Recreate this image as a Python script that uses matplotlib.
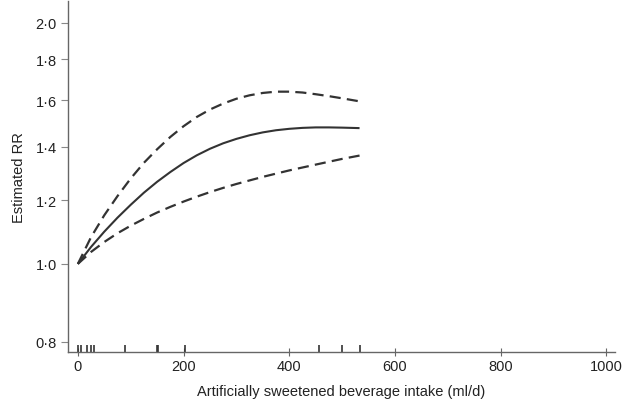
import numpy as np
import matplotlib
matplotlib.use('Agg')
import matplotlib.pyplot as plt
from matplotlib.ticker import FixedLocator, FuncFormatter, NullLocator
import matplotlib.transforms as mtransforms

plt.rcParams['font.family'] = ['Liberation Sans', 'DejaVu Sans']

# intake (ml/d) where the curves were read
intake = [0, 25, 50, 75, 100, 125, 150, 175, 200, 225, 250, 275, 300,
          325, 350, 375, 400, 425, 450, 475, 500, 533]
rr_est = [1.0, 1.05, 1.097, 1.142, 1.185, 1.227, 1.266, 1.302, 1.336, 1.366, 1.392,
          1.414, 1.432, 1.447, 1.459, 1.468, 1.474, 1.478, 1.48, 1.48, 1.479, 1.477]
rr_upper = [1.0, 1.08, 1.15, 1.215, 1.278, 1.337, 1.39, 1.44, 1.485, 1.525, 1.558,
            1.585, 1.607, 1.623, 1.634, 1.64, 1.64, 1.636, 1.628, 1.619, 1.609, 1.595]
rr_lower = [1.0, 1.035, 1.065, 1.092, 1.116, 1.138, 1.159, 1.178, 1.196, 1.213, 1.229,
            1.244, 1.258, 1.271, 1.284, 1.296, 1.308, 1.319, 1.33, 1.341, 1.352, 1.365]

# observed intakes shown as rug
rug_x = [0, 6, 18, 24, 31, 89, 149, 152, 202, 457, 500, 533]

yticks = [0.8, 1.0, 1.2, 1.4, 1.6, 1.8, 2.0]
xticks = [0, 200, 400, 600, 800, 1000]

fig = plt.figure(figsize=(6.28, 4.14), dpi=100)
ax = fig.add_axes([0.108, 0.148, 0.871, 0.848])

line_col = '#333333'
ax.plot(intake, rr_est, color=line_col, lw=1.5, solid_capstyle='butt')
ax.plot(intake, rr_upper, color=line_col, lw=1.6, dashes=(5, 2.8))
ax.plot(intake, rr_lower, color=line_col, lw=1.6, dashes=(5, 2.8))

trans = mtransforms.blended_transform_factory(ax.transData, ax.transAxes)
ax.vlines(rug_x, 0, 0.018, transform=trans, color=line_col, lw=1.2)

ax.set_yscale('log')
ax.set_ylim(0.777, 2.13)
ax.set_xlim(-19, 1016)

ax.yaxis.set_major_locator(FixedLocator(yticks))
ax.yaxis.set_minor_locator(NullLocator())
ax.yaxis.set_major_formatter(FuncFormatter(lambda v, p: f'{v:.1f}'.replace('.', '\u00b7')))
ax.set_xticks(xticks)

for s in ['top', 'right']:
    ax.spines[s].set_visible(False)
for s in ['left', 'bottom']:
    ax.spines[s].set_color('#666666')
    ax.spines[s].set_linewidth(1.0)

ax.tick_params(axis='y', direction='out', length=5, width=0.8, color='#888888',
               labelsize=10.5, labelcolor='#222222', pad=3)
ax.tick_params(axis='x', direction='inout', length=6, width=0.8, color='#666666',
               labelsize=10.5, labelcolor='#222222', pad=2)

ax.set_ylabel('Estimated RR', fontsize=10.5, color='#222222', labelpad=7)
ax.set_xlabel('Artificially sweetened beverage intake (ml/d)', fontsize=10.5,
              color='#222222', labelpad=8)

fig.savefig('out.png', dpi=100)
